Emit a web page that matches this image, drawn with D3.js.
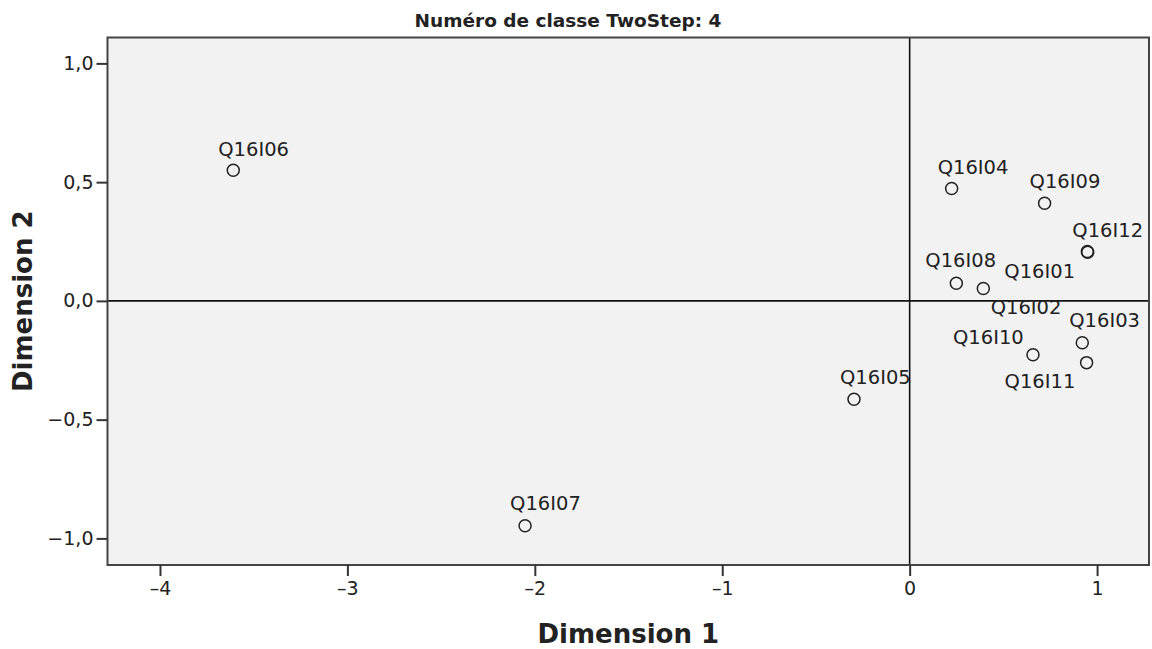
<!DOCTYPE html>
<html>
<head>
<meta charset="utf-8">
<script src="https://cdn.jsdelivr.net/npm/d3@7"></script>
<style>
  body { margin: 0; background: #fff; }
  text { font-family: "DejaVu Sans", sans-serif; fill: #222; }
</style>
</head>
<body>
<div id="chart"></div>
<script>
const items = ['Q16I01', 'Q16I02', 'Q16I03', 'Q16I04', 'Q16I05', 'Q16I06', 'Q16I07', 'Q16I08', 'Q16I09', 'Q16I10', 'Q16I11', 'Q16I12'];
const dim1 = [0.393, 0.950, 0.921, 0.224, -0.297, -3.609, -2.052, 0.249, 0.720, 0.658, 0.944, 0.948];
const dim2 = [0.052, 0.205, -0.176, 0.473, -0.414, 0.550, -0.947, 0.074, 0.411, -0.227, -0.260, 0.208];
const xTicks = [-4, -3, -2, -1, 0, 1];
const yTicks = [-1.0, -0.5, 0.0, 0.5, 1.0];

// label placement (pixel offsets from the point, left/baseline of text)
const labelOffset = {
  Q16I01: [21, -11], Q16I02: [-97, 62], Q16I03: [-13, -16], Q16I04: [-14, -15],
  Q16I05: [-14, -15], Q16I06: [-15, -14], Q16I07: [-15, -16], Q16I08: [-31, -16],
  Q16I09: [-15, -15], Q16I10: [-80, -11], Q16I11: [-82, 25], Q16I12: [-15, -14],
};

const width = 1152;
const height = 649;
const margin = { top: 37.5, right: 3, bottom: 84, left: 107.5 };

const svg = d3.select('#chart').append('svg')
  .attr('width', width)
  .attr('height', height);

const x = d3.scaleLinear()
  .domain([-4.28, 1.277])
  .range([margin.left, width - margin.right]);
const y = d3.scaleLinear()
  .domain([-1.112, 1.109])
  .range([height - margin.bottom, margin.top]);

const dash = s => s.replace('-', '\u2013');

svg.append('rect')
  .attr('x', margin.left)
  .attr('y', margin.top)
  .attr('width', width - margin.right - margin.left)
  .attr('height', height - margin.bottom - margin.top)
  .attr('fill', '#f2f2f2');

// reference lines at 0
svg.append('line')
  .attr('x1', x(0)).attr('x2', x(0))
  .attr('y1', margin.top).attr('y2', height - margin.bottom)
  .attr('stroke', '#111').attr('stroke-width', 1.6);
svg.append('line')
  .attr('x1', margin.left).attr('x2', width - margin.right)
  .attr('y1', y(0)).attr('y2', y(0))
  .attr('stroke', '#111').attr('stroke-width', 1.6);

svg.append('rect')
  .attr('x', margin.left)
  .attr('y', margin.top)
  .attr('width', width - margin.right - margin.left)
  .attr('height', height - margin.bottom - margin.top)
  .attr('fill', 'none')
  .attr('stroke', '#444')
  .attr('stroke-width', 2);

const xAxis = svg.append('g')
  .attr('transform', `translate(0, ${height - margin.bottom})`)
  .call(d3.axisBottom(x).tickValues(xTicks).tickSize(11).tickPadding(6)
    .tickFormat(d => dash(String(d))));
const yAxis = svg.append('g')
  .attr('transform', `translate(${margin.left}, 0)`)
  .call(d3.axisLeft(y).tickValues(yTicks).tickSize(11).tickPadding(3)
    .tickFormat(d => dash(d3.format('.1f')(d).replace('.', ','))));

[xAxis, yAxis].forEach((g) => {
  g.select('.domain').remove();
  g.selectAll('.tick line').attr('stroke', '#333').attr('stroke-width', 2);
  g.selectAll('.tick text')
    .style('font-size', '19px')
    .style('font-family', '"DejaVu Sans", sans-serif')
    .attr('fill', '#222');
});

const points = items.map((name, i) => ({ name, d1: dim1[i], d2: dim2[i] }));

svg.append('g')
  .selectAll('circle')
  .data(points)
  .enter()
  .append('circle')
  .attr('cx', d => x(d.d1))
  .attr('cy', d => y(d.d2))
  .attr('r', 6)
  .attr('fill', 'none')
  .attr('stroke', '#222')
  .attr('stroke-width', 1.5);

svg.append('g')
  .selectAll('text')
  .data(points)
  .enter()
  .append('text')
  .attr('x', d => x(d.d1) + labelOffset[d.name][0])
  .attr('y', d => y(d.d2) + labelOffset[d.name][1])
  .style('font-size', '19.5px')
  .text(d => d.name);

svg.append('text')
  .attr('x', 568)
  .attr('y', 27)
  .attr('text-anchor', 'middle')
  .style('font-size', '18.5px')
  .style('font-weight', 'bold')
  .text('Numéro de classe TwoStep: 4');

svg.append('text')
  .attr('x', (margin.left + width - margin.right) / 2)
  .attr('y', 643)
  .attr('text-anchor', 'middle')
  .style('font-size', '26px')
  .style('font-weight', 'bold')
  .text('Dimension 1');

svg.append('text')
  .attr('transform', `translate(32, ${(margin.top + height - margin.bottom) / 2}) rotate(-90)`)
  .attr('text-anchor', 'middle')
  .style('font-size', '26px')
  .style('font-weight', 'bold')
  .text('Dimension 2');
</script>
</body>
</html>
